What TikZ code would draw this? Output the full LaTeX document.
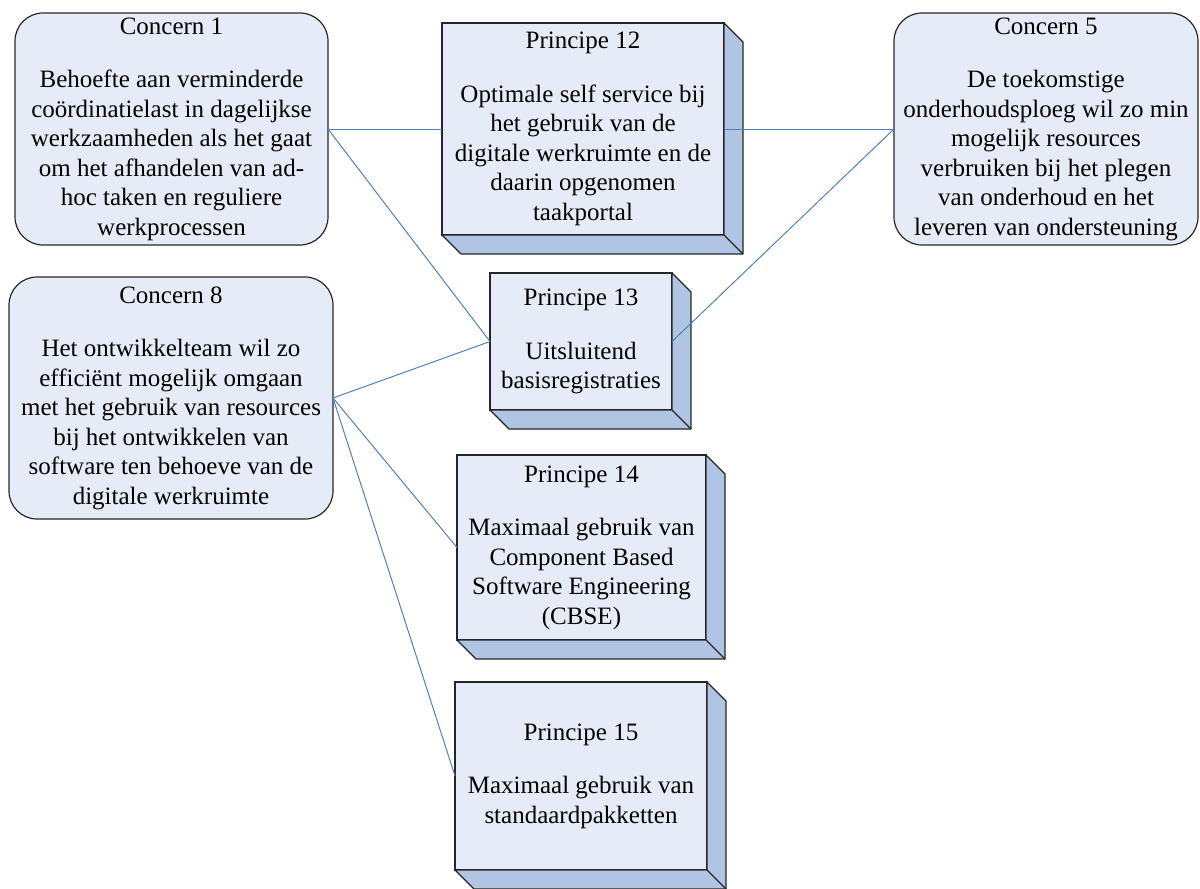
\documentclass[tikz,border=0pt]{standalone}
\usepackage{fontspec}
\setmainfont{Liberation Serif}
\usetikzlibrary{calc}

\definecolor{facefill}{HTML}{E6ECF7}
\definecolor{sidefill}{HTML}{B0C4E3}
\definecolor{linkblue}{HTML}{4F81BD}
\definecolor{edgegray}{HTML}{262626}

\tikzset{
  boxtext/.style={align=center, font=\fontsize{25}{29.5}\selectfont,
    inner sep=0pt, outer sep=0pt},
  concern/.style={boxtext, draw=edgegray, line width=1.2pt, fill=facefill,
    rounded corners=28pt},
  principe/.style={boxtext, draw=edgegray, line width=1.2pt, fill=facefill},
  sideface/.style={draw=edgegray, line width=1.2pt, fill=sidefill, line join=round},
  link/.style={draw=linkblue, line width=1pt},
}

% right and bottom faces of a 3D principle block
\newcommand\extrude[1]{%
  \path[sideface] (#1.north east) -- ++(19,19) -- ($(#1.south east)+(19,19)$)
    -- ($(#1.south west)+(19,19)$) -- (#1.south west) -- (#1.south east) -- cycle;
  \draw[sideface] (#1.south east) -- ++(19,19);
}

\begin{document}
\begin{tikzpicture}[x=1pt, y=-1pt]
\useasboundingbox (0,0) rectangle (1200,889);

% concerns
\node[concern, minimum width=313pt, minimum height=232pt] (c1) at (171.5,129)
  {Concern 1\\[24pt]Behoefte aan verminderde\\co\"ordinatielast in dagelijkse\\werkzaamheden als het gaat\\om het afhandelen van ad-\\hoc taken en reguliere\\werkprocessen};
\node[concern, minimum width=304pt, minimum height=232pt] (c5) at (1046,129)
  {Concern 5\\[24pt]De toekomstige\\onderhoudsploeg wil zo min\\mogelijk resources\\verbruiken bij het plegen\\van onderhoud en het\\leveren van ondersteuning};
\node[concern, minimum width=324pt, minimum height=242pt] (c8) at (171,398)
  {Concern 8\\[24pt]Het ontwikkelteam wil zo\\effici\"ent mogelijk omgaan\\met het gebruik van resources\\bij het ontwikkelen van\\software ten behoeve van de\\digitale werkruimte};

% principles
\node[principe, minimum width=282pt, minimum height=212pt] (p12) at (583,129)
  {Principe 12\\[24pt]Optimale self service bij\\het gebruik van de\\digitale werkruimte en de\\daarin opgenomen\\taakportal};
\extrude{p12}
\node[principe, minimum width=182pt, minimum height=137pt] (p13) at (581,341.5)
  {Principe 13\\[24pt]Uitsluitend\\basisregistraties};
\extrude{p13}
\node[principe, minimum width=249pt, minimum height=185pt] (p14) at (581.5,547.5)
  {Principe 14\\[24pt]Maximaal gebruik van\\Component Based\\Software Engineering\\(CBSE)};
\extrude{p14}
\node[principe, minimum width=252pt, minimum height=188pt] (p15) at (581,776)
  {Principe 15\\[24pt]Maximaal gebruik van\\standaardpakketten};
\extrude{p15}

% links between concerns and principles
\draw[link] (c1.east) -- (p12.west);
\draw[link] (p12.east) -- (c5.west);
\draw[link] (c1.east) -- (p13.west);
\draw[link] (c5.west) -- (p13.east);
\draw[link] (c8.east) -- (p13.west);
\draw[link] (c8.east) -- (p14.west);
\draw[link] (c8.east) -- (p15.west);
\end{tikzpicture}
\end{document}
